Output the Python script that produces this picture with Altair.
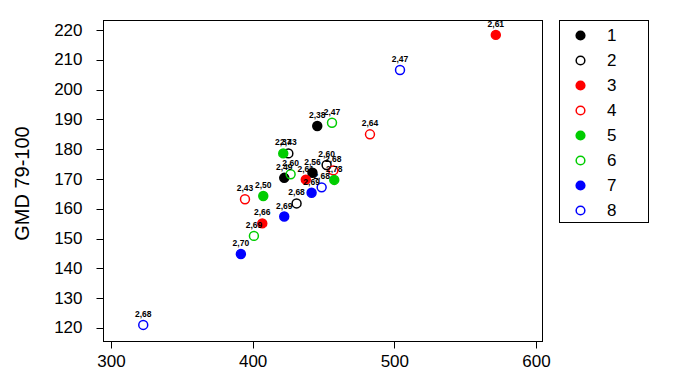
import altair as alt
import pandas as pd

groups = ["1", "2", "3", "4", "5", "6", "7", "8"]
stroke_colors = ["black", "black", "#FF0000", "#FF0000", "#00CD00", "#00CD00", "#0000FF", "#0000FF"]
fill_colors = ["black", "transparent", "#FF0000", "transparent", "#00CD00", "transparent", "#0000FF", "transparent"]

group = ["1", "1", "1", "2", "2", "2", "3", "3", "3", "4", "4", "4",
         "5", "5", "5", "6", "6", "6", "7", "7", "7", "8", "8", "8"]
xval = [445.6, 442.2, 422.3, 425.2, 452.2, 431.0, 571.6, 437.5, 406.8, 482.8, 456.9, 394.6,
        421.6, 457.6, 407.5, 456.0, 426.8, 400.9, 441.6, 422.3, 391.7, 504.0, 448.7, 322.8]
yval = [187.8, 172.1, 170.4, 178.6, 174.7, 161.8, 218.4, 169.8, 155.1, 185.0, 172.9, 163.2,
        178.6, 169.7, 164.3, 188.9, 171.6, 150.9, 165.4, 157.4, 144.8, 206.6, 167.2, 121.0]
labels = ["2,38", "2,56", "2,49", "2,43", "2,60", "2,68", "2,61", "2,61", "2,66", "2,64", "2,68", "2,43",
          "2,37", "2,78", "2,50", "2,47", "2,60", "2,69", "2,69", "2,69", "2,70", "2,47", "2,68", "2,68"]

x_ticks = [300, 400, 500, 600]
y_ticks = [120, 130, 140, 150, 160, 170, 180, 190, 200, 210, 220]

df = pd.DataFrame({"group": group, "x": xval, "y": yval, "label": labels})

FONT = "Liberation Sans"

xscale = alt.Scale(domain=[294.4, 604.2], nice=False, zero=False)
yscale = alt.Scale(domain=[115.6, 223.4], nice=False, zero=False)

xaxis = alt.Axis(values=x_ticks, title=None, grid=False, labelFontSize=17, labelFont=FONT,
                 labelColor="black", tickColor="black", tickSize=7, domainColor="black",
                 labelPadding=5, labelFlush=False, labelOverlap=False)
yaxis = alt.Axis(values=y_ticks, tickCount=11, title="GMD 79-100", grid=False, labelFontSize=17,
                 labelFont=FONT, labelColor="black", tickColor="black", tickSize=7,
                 domainColor="black", labelPadding=14, labelOverlap=False, labelFlush=False,
                 labelSeparation=0, titleFont=FONT, titleFontSize=20, titleFontWeight="normal",
                 titleColor="black", titleX=-81, titleY=163, titleAngle=-90,
                 titleBaseline="middle", titleAlign="center")

legend = alt.Legend(title=None, orient="none", legendX=469, legendY=7, padding=0,
                    symbolType="circle", symbolSize=75, symbolStrokeWidth=1.5,
                    labelFontSize=17, labelFont=FONT, labelColor="black",
                    labelOffset=18, rowPadding=7)

base = alt.Chart(df)

points = base.mark_point(shape="circle", size=80, strokeWidth=1.5, opacity=1).encode(
    x=alt.X("x:Q", scale=xscale, axis=xaxis),
    y=alt.Y("y:Q", scale=yscale, axis=yaxis),
    stroke=alt.Stroke("group:N", scale=alt.Scale(domain=groups, range=stroke_colors), legend=legend),
    fill=alt.Fill("group:N", scale=alt.Scale(domain=groups, range=fill_colors), legend=legend),
)

text = base.mark_text(dy=-11, fontSize=8.5, fontWeight="bold", font=FONT, color="black").encode(
    x=alt.X("x:Q", scale=xscale, axis=xaxis),
    y=alt.Y("y:Q", scale=yscale, axis=yaxis),
    text="label:N",
)

frame = alt.Chart(df).mark_rect(fill="transparent", stroke="black", strokeWidth=1).encode(
    x=alt.value(0.5), x2=alt.value(439.5), y=alt.value(0.5), y2=alt.value(321.5)
)

legend_box = alt.Chart(df).mark_rect(fill="transparent", stroke="black", strokeWidth=1).encode(
    x=alt.value(456.5), x2=alt.value(545.5), y=alt.value(0.5), y2=alt.value(202.5)
)

chart = alt.layer(points, text, frame, legend_box).properties(
    width=439, height=321,
    autosize=alt.AutoSizeParams(type="none"),
    padding={"left": 95, "top": 12, "right": 150, "bottom": 34},
).configure(
    background="white",
    view=alt.ViewConfig(stroke=None),
)

chart.save("out.html", embed_options={"renderer": "svg", "actions": False})
